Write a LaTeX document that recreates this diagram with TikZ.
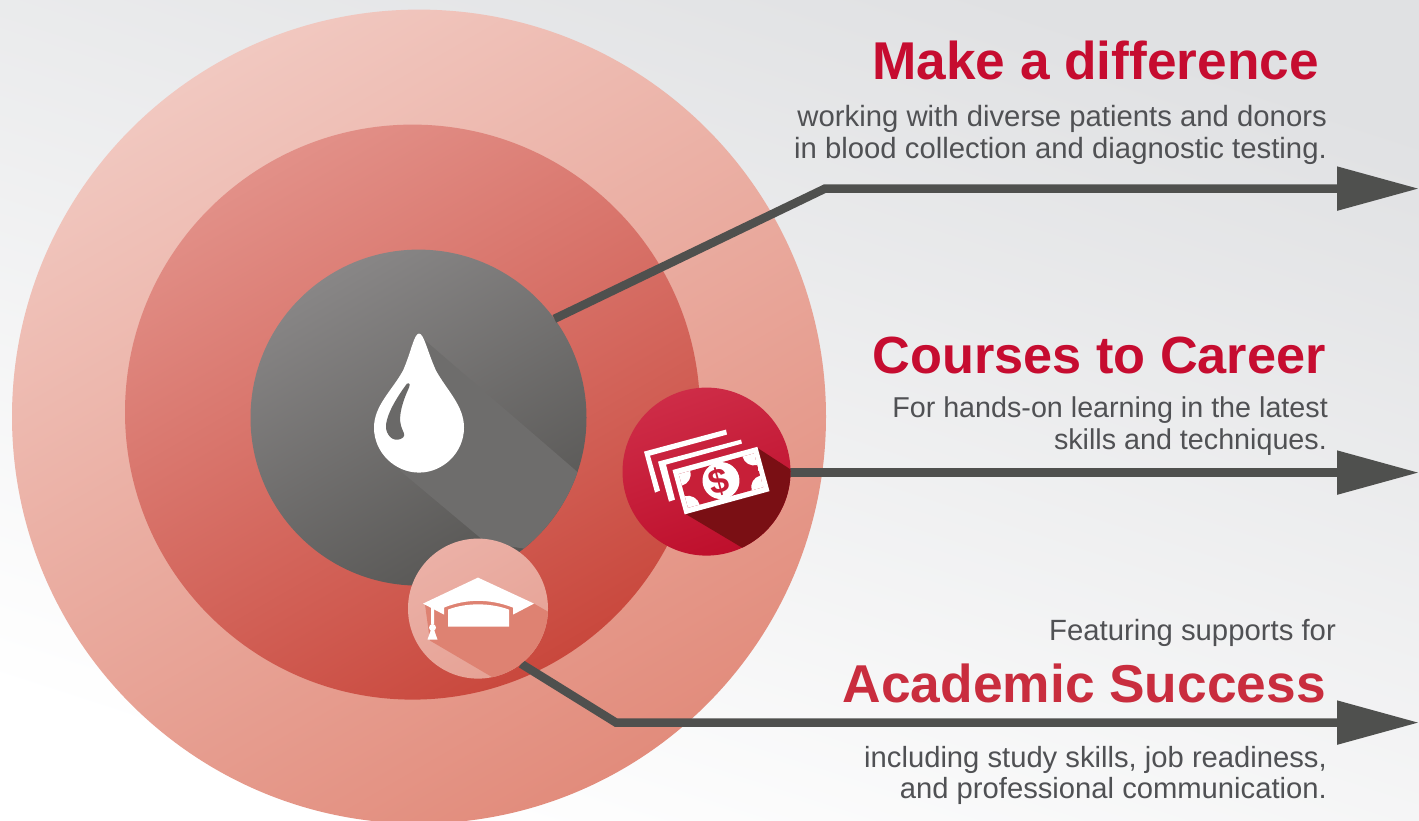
\documentclass[tikz,border=0pt]{standalone}
\usepackage{fontspec}
\setmainfont{Liberation Sans}
\usetikzlibrary{arrows.meta}
\definecolor{txt}{HTML}{505154}
\definecolor{ttl}{HTML}{C60C30}
\definecolor{ttlb}{HTML}{C92D3E}
\definecolor{conn}{HTML}{4F504E}
\definecolor{Bg}{HTML}{E0E1E3}
\definecolor{Fa}{HTML}{F1C8C0}
\definecolor{Fb}{HTML}{E28C7C}
\definecolor{Ma}{HTML}{E29088}
\definecolor{Mb}{HTML}{C9483D}
\definecolor{Da}{HTML}{888686}
\definecolor{Db}{HTML}{575654}
\definecolor{Ra}{HTML}{CE2C47}
\definecolor{Rb}{HTML}{BE0F2C}
\definecolor{Ca}{HTML}{EBB0A6}
\definecolor{Cb}{HTML}{E6A295}
\definecolor{billred}{HTML}{C71F38}
\definecolor{dropshade}{HTML}{6E6D6C}
\definecolor{dropin}{HTML}{6A6968}
\definecolor{moneyshade}{HTML}{7A0F14}
\definecolor{capshade}{HTML}{DE8272}
\tikzset{
  ring/.style={circle,inner sep=0pt,outer sep=0pt},
  body/.style={anchor=base east,text=txt,inner sep=0pt},
  head/.style={anchor=base east,text=ttl,inner sep=0pt},
  link/.style={draw=conn,line width=8.5pt,line join=miter,-{Triangle[length=82pt,width=42pt,fill=conn]}},
  icon/.style={fill=white,draw=none},
}
\newcommand{\bodysize}[1]{\fontsize{#1}{34}\selectfont}
\newcommand{\headsize}[1]{\fontsize{#1}{60}\bfseries\selectfont}
\begin{document}
\begin{tikzpicture}[x=1pt,y=-1pt]
\useasboundingbox (0,-0.6) rectangle (1419,820.4);
\shade[top color=Bg,bottom color=white,shading angle=-18] (0,-0.6) rectangle (1419,820.4);
% circles
\begin{scope}
\clip (0,-0.6) rectangle (1419,820.4);
\node[ring,minimum size=814pt,top color=Fa,bottom color=Fb,shading angle=30] (outer) at (419,416) {};
\end{scope}
\node[ring,minimum size=575pt,top color=Ma,bottom color=Mb,shading angle=30] (middle) at (412.5,411.5) {};
\node[ring,minimum size=336pt,top color=Da,bottom color=Db,shading angle=30] (dark) at (418.5,417) {};
% drop shadow
\begin{scope}
\clip (418.5,417) circle (168);
\fill[dropshade] (423,338) -- (577,471) -- (600,560) -- (486,542) -- (400,470) -- cycle;
\end{scope}
% drop
\fill[icon] (419,333) .. controls (424,333) and (427,350) .. (436,370)
  .. controls (447,390) and (464,405) .. (464,427)
  .. controls (464,452) and (443,472) .. (419,472)
  .. controls (395,472) and (374,452) .. (374,427)
  .. controls (374,405) and (392,390) .. (403,370)
  .. controls (411,352) and (414,333) .. (419,333) -- cycle;
\fill[dropin] (407,383) .. controls (410,382) and (410,384) .. (409,387)
  .. controls (403,400) and (398,415) .. (401,425)
  .. controls (403,432) and (406,434) .. (403,437)
  .. controls (396,442) and (388,438) .. (386,428)
  .. controls (385,415) and (398,395) .. (407,383) -- cycle;
% connectors
\coordinate (b1) at (825,188);
\coordinate (t1) at (1419,188);
\coordinate (t2) at (1419,472);
\coordinate (b3) at (616,722);
\coordinate (t3) at (1419,722);
\coordinate (m2) at (790,472);
\draw[link] (dark.36) -- (b1) -- (t1);
\draw[link] (m2) -- (t2);
\node[ring,minimum size=168pt,top color=Ra,bottom color=Rb,shading angle=20] (money) at (706.5,471) {};
\node[ring,minimum size=140pt,top color=Ca,bottom color=Cb,shading angle=30] (capc) at (478,608) {};
\draw[link] (capc.-52) -- (b3) -- (t3);
% money icon
\begin{scope}
\clip (706.5,471) circle (84);
\fill[moneyshade] (757,447) -- (800,475) -- (790,560) -- (742,547) -- (685,513) -- cycle;
\end{scope}
\fill[icon] (644,451) -- (726,429) -- (727,434) -- (650,455) -- (660,490) -- (655,492) -- cycle;
\fill[icon] (658,461) -- (741,439) -- (742,443) -- (666,464) -- (675,499) -- (669,501) -- cycle;
\begin{scope}[shift={(721,480)},rotate=15.3]
\fill[icon] (-44,-23) rectangle (44,23);
\begin{scope}
\clip (-39,-17.5) rectangle (39,17.5);
\fill[billred] (-39,-17.5) rectangle (39,17.5);
\foreach \sx in {-39,39} \foreach \sy in {-17.5,17.5} \fill[white] (\sx,\sy) circle (12);
\end{scope}
\fill[white] (0,0) circle (18.5);
\end{scope}
\node[rotate=15.3,text=billred,inner sep=0pt,font=\headsize{35}] (dollar) at (719,481) {\$};
% cap icon
\begin{scope}
\clip (478,608) circle (70);
\fill[capshade] (534,603) -- (560,618) -- (560,690) -- (493,677) -- (430,640) -- (425,604) -- (478,590) -- cycle;
\end{scope}
\fill[icon] (423,603) -- (478,577) -- (534,603) -- (513,614) -- (513,607)
  .. controls (490,598) and (466,598) .. (444,607) -- (444,614) -- cycle;
\fill[icon] (448,609) .. controls (466,602) and (490,602) .. (509,609) -- (509,626) -- (448,626) -- cycle;
\fill[icon] (431,605) -- (434,606) -- (434,624) -- (431,624) -- cycle;
\fill[icon] (432.5,627) circle (3.5);
\fill[icon] (431,629) -- (434,629) -- (437.5,639) -- (427.5,639) -- cycle;
% text
\node[head,font=\headsize{53.2}] (t1a) at (1319,79) {Make a difference};
\node[body,font=\bodysize{29.3}] (t1b) at (1327,126) {working with diverse patients and donors};
\node[body,font=\bodysize{29.3}] (t1c) at (1327,158) {in blood collection and diagnostic testing.};
\node[head,font=\headsize{52.3}] (t2a) at (1326,373) {Courses to Career};
\node[body,font=\bodysize{28.7}] (t2b) at (1328,417) {For hands-on learning in the latest};
\node[body,font=\bodysize{28.7}] (t2c) at (1327,449) {skills and techniques.};
\node[body,font=\bodysize{29.3}] (t3a) at (1336,640) {Featuring supports for};
\node[head,text=ttlb,font=\headsize{53.3}] (t3b) at (1326,702) {Academic Success};
\node[body,font=\bodysize{29.2}] (t3c) at (1327,767) {including study skills, job readiness,};
\node[body,font=\bodysize{29.2}] (t3d) at (1327,798) {and professional communication.};
\end{tikzpicture}
\end{document}
